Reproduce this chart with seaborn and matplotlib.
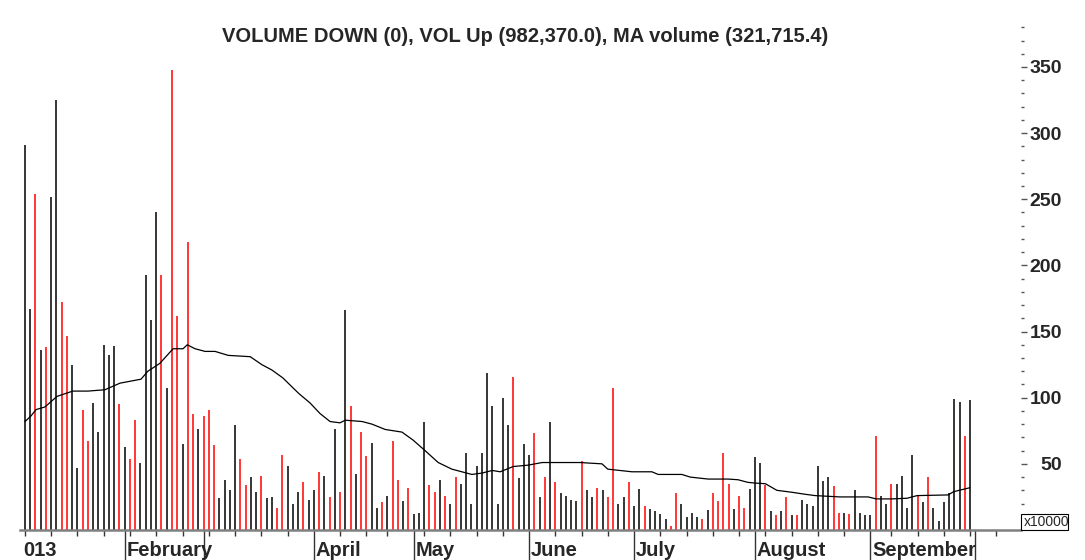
import matplotlib
matplotlib.use("Agg")
import matplotlib.pyplot as plt
from matplotlib.patches import Rectangle
from matplotlib.transforms import blended_transform_factory
from matplotlib.ticker import FixedLocator
import pandas as pd
import seaborn as sns

# --- DATOS (volumen x10000) ---
volumen = [291, 167, 254, 136, 138, 252, 325, 172, 147, 125,
           47, 91, 67, 96, 74, 140, 132, 139, 95, 63,
           54, 83, 51, 193, 159, 240, 193, 107, 348, 162,
           65, 218, 88, 76, 86, 91, 64, 24, 38, 30,
           79, 54, 34, 40, 29, 41, 24, 25, 17, 57,
           48, 20, 29, 36, 23, 30, 44, 41, 25, 76,
           29, 166, 94, 42, 74, 56, 66, 17, 21, 26,
           67, 38, 22, 32, 12, 13, 82, 34, 29, 38,
           26, 20, 40, 35, 58, 20, 48, 58, 119, 94,
           20, 100, 79, 116, 39, 65, 57, 73, 25, 40,
           82, 36, 28, 26, 23, 22, 52, 30, 25, 32,
           30, 25, 107, 20, 25, 36, 18, 31, 18, 16,
           14, 12, 8, 3, 28, 20, 10, 13, 10, 8,
           15, 28, 22, 58, 35, 16, 26, 17, 31, 55,
           51, 34, 14, 11, 14, 25, 11, 11, 23, 20,
           18, 48, 37, 40, 33, 13, 13, 12, 30, 13,
           11, 11, 71, 26, 20, 35, 35, 41, 17, 57,
           26, 21, 40, 17, 7, 21, 28, 99, 97, 71,
           98]
# k = sube (negro), r = baja (rojo)
color_dia = ("kkrkrkkrrk" "krrkkkkkrk" "rrkkkkrkrr" "krrkrrrkkk"
             "krrkkrkkrr" "kkkrkkrkrk" "rkrkrrkkrk" "rrkrkkkrrk"
             "rkrkkkkkkk" "kkkrkkkrkr" "krkkkkrkkr" "krrkkrkkrk"
             "kkkrrkkkkr" "krrrrkrrkk" "krkrkrkrkk" "kkkkrrkrkk"
             "kkrkkrkkkk" "rkrkkkkkkr" "k")

# media movil (posicion de sesion, valor)
ma_pos = [0, 1.1, 2.1, 3.8, 6.1, 9.1, 12, 15.2, 18.1, 22.1, 23.4, 25.7, 28.2, 30.1, 30.9,
          32.4, 34.3, 36.2, 38.7, 42.9, 45.1, 47, 49.1, 50.9, 52.2, 54.3, 56.2, 58.1, 60,
          61, 64.2, 66.1, 68.6, 71.8, 73.9, 76.2, 78.7, 81.3, 83.2, 85.1, 87, 89, 90.5,
          93, 95.8, 98.5, 105.7, 109.9, 111, 115.6, 119.4, 120.6, 125.1, 126.7, 130.1,
          133.9, 135.8, 137.7, 139, 141, 143.2, 146.1, 148.6, 150.5, 155.2, 160.6, 162.1,
          165.1, 168, 169.9, 175.8, 176.9, 180]
ma_val = [82, 86, 91, 93, 101, 105, 105, 106, 111, 114, 120, 126, 137, 137, 140,
          137, 135, 135, 132, 131, 125, 121, 115, 108, 103, 96, 88, 82, 81,
          83, 82, 80, 76, 74, 68, 60, 51, 46, 44, 42, 43, 45, 44,
          48, 49, 51, 51, 50, 46, 44, 44, 42, 42, 40, 38.5,
          38.5, 38, 36, 35.5, 35, 30, 28.5, 27, 26, 25, 25, 23.5,
          23.5, 24, 26, 26.5, 29, 32]

# eje x: inicio de mes y marcas semanales
inicio_mes = [19, 34, 55, 74, 96, 116, 139, 161, 181]
etiqueta_pos = [-0.4, 19.4, 55.4, 74.4, 96.4, 116.4, 139.4, 161.4]
etiqueta_txt = ["013", "February", "April", "May", "June", "July", "August", "September"]
semanas = [0, 5, 10, 15, 20, 25, 30, 35, 40, 45, 50, 60, 65, 69, 76, 81, 86, 91, 101, 106,
           111, 121, 126, 131, 136, 141, 146, 151, 156, 165, 170, 175, 180, 185]

titulo = "VOLUME DOWN (0), VOL Up (982,370.0), MA volume (321,715.4)"

# --- GRAFICA ---
sns.set_style("white")
plt.rcParams["font.family"] = ["Liberation Sans", "DejaVu Sans"]

fig = plt.figure(figsize=(10.85, 5.6), dpi=100)
ax = fig.add_axes([20 / 1085, 30 / 560, 1001 / 1085, 510 / 560])

dias = list(range(len(volumen)))
colores = ["#000000" if c == "k" else "#ff0000" for c in color_dia]
ax.vlines(dias, 0, volumen, colors=colores, linewidth=1.1)

df_ma = pd.DataFrame({"pos": ma_pos, "ma": ma_val})
sns.lineplot(data=df_ma, x="pos", y="ma", color="black", linewidth=0.9, ax=ax)

ax.set_xlim(-0.95, 189.7)
ax.set_ylim(0, 385.5)
ax.set_xlabel("")
ax.set_ylabel("")

for lado in ["top", "left", "right"]:
    ax.spines[lado].set_visible(False)
ax.spines["bottom"].set_color("#808080")
ax.spines["bottom"].set_linewidth(1.8)

ax.xaxis.set_major_locator(FixedLocator(inicio_mes))
ax.xaxis.set_minor_locator(FixedLocator(semanas))
ax.tick_params(axis="x", which="major", length=22, width=1, color="#333333",
               direction="out", bottom=True, labelbottom=False)
ax.tick_params(axis="x", which="minor", length=4.5, width=1, color="#333333",
               direction="out", bottom=True)

ax.yaxis.tick_right()
ax.yaxis.set_major_locator(FixedLocator(range(50, 351, 50)))
ax.yaxis.set_minor_locator(FixedLocator([v for v in range(10, 390, 10) if v % 50 != 0]))
ax.tick_params(axis="y", which="major", length=4.5, width=1, color="#555555",
               labelsize=14, pad=25, left=False, right=True)
ax.tick_params(axis="y", which="minor", length=2, width=1, color="#555555",
               left=False, right=True)
for lbl in ax.get_yticklabels():
    lbl.set_horizontalalignment("right")
    lbl.set_fontweight("bold")

trans = blended_transform_factory(ax.transData, fig.transFigure)
for pos, txt in zip(etiqueta_pos, etiqueta_txt):
    ax.text(pos, 4 / 560, txt, transform=trans, ha="left", va="baseline",
            fontsize=14.5, fontweight="bold", clip_on=False)

fig.text(525 / 1085, 1 - 37 / 560, titulo, ha="center", va="center",
         fontsize=14.5, fontweight="bold")

fig.add_artist(Rectangle((1021 / 1085, 30 / 560), 47 / 1085, 16 / 560,
                         transform=fig.transFigure, facecolor="white",
                         edgecolor="black", linewidth=0.8))
fig.text(1024 / 1085, 38 / 560, "x10000", ha="left", va="center", fontsize=10)

fig.savefig("out.png", dpi=100)
